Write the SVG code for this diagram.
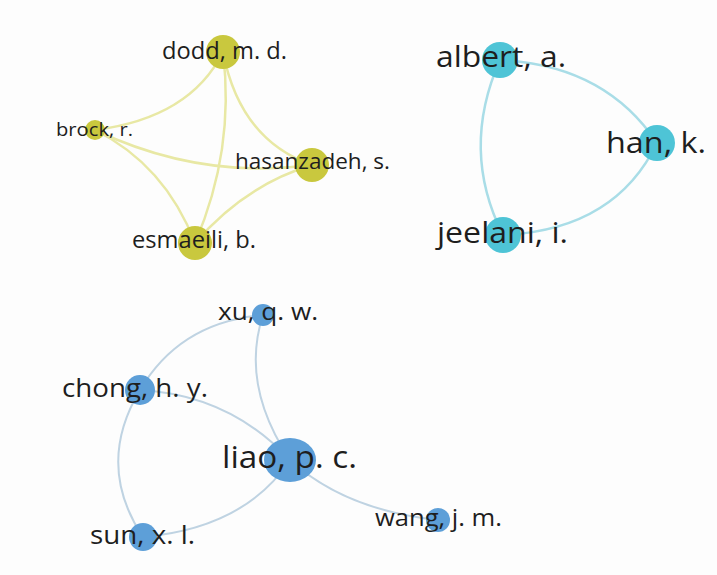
<svg xmlns="http://www.w3.org/2000/svg" width="717" height="575" viewBox="0 0 717 575">
<style>
text{font-family:"Open Sans","Noto Sans","DejaVu Sans",sans-serif;fill:#1e1e1e}
.ey{fill:none;stroke:#e8e8a4;stroke-width:2.5}
.ec{fill:none;stroke:#a9dde7;stroke-width:2.5}
.eb{fill:none;stroke:#bfd3e2;stroke-width:2}
.ny{fill:#c9c83e}
.nc{fill:#4ec4d6}
.nb{fill:#5d9fd8}
</style>
<rect width="717" height="575" fill="#fdfdfd"/>
<g id="connectors">
<path class="ey" d="M223,52 Q190,118 95,130"/>
<path class="ey" d="M223,52 Q240,140 312,165"/>
<path class="ey" d="M223,52 Q235,150 195,243"/>
<path class="ey" d="M95,130 Q200,180 312,165"/>
<path class="ey" d="M95,130 Q165,165 195,243"/>
<path class="ey" d="M195,243 Q245,185 312,165"/>
<path class="ec" d="M500,60 Q605,65 657,143"/>
<path class="ec" d="M657,143 Q615,230 503,235"/>
<path class="ec" d="M500,60 Q460,150 503,235"/>
<path class="eb" d="M263,315 Q180,322 140,390"/>
<path class="eb" d="M263,315 Q240,385 290,460"/>
<path class="eb" d="M140,390 Q230,395 290,460"/>
<path class="eb" d="M140,390 Q95,465 143,537"/>
<path class="eb" d="M143,537 Q245,528 290,460"/>
<path class="eb" d="M290,460 Q345,510 438,520"/>
</g>
<g id="dodd"><circle class="ny" cx="223" cy="52" r="17"/><text x="162" y="59" font-size="23" textLength="125" lengthAdjust="spacingAndGlyphs">dodd, m. d.</text></g>
<g id="brock"><circle class="ny" cx="95" cy="130" r="10"/><text x="56" y="136" font-size="19" textLength="77" lengthAdjust="spacingAndGlyphs">brock, r.</text></g>
<g id="hasanzadeh"><circle class="ny" cx="312" cy="165" r="17"/><text x="235" y="169" font-size="22" textLength="155" lengthAdjust="spacingAndGlyphs">hasanzadeh, s.</text></g>
<g id="esmaeili"><circle class="ny" cx="195" cy="243" r="17"/><text x="132" y="248" font-size="23" textLength="124" lengthAdjust="spacingAndGlyphs">esmaeili, b.</text></g>
<g id="albert"><circle class="nc" cx="500" cy="60" r="18"/><text x="436" y="67" font-size="30" textLength="130" lengthAdjust="spacingAndGlyphs">albert, a.</text></g>
<g id="han"><circle class="nc" cx="657" cy="143" r="18"/><text x="606" y="153" font-size="30" textLength="100" lengthAdjust="spacingAndGlyphs">han, k.</text></g>
<g id="jeelani"><circle class="nc" cx="503" cy="235" r="18"/><text x="437" y="243" font-size="30" textLength="131" lengthAdjust="spacingAndGlyphs">jeelani, i.</text></g>
<g id="xu"><circle class="nb" cx="263" cy="315" r="11"/><text x="218" y="320" font-size="24" textLength="100" lengthAdjust="spacingAndGlyphs">xu, q. w.</text></g>
<g id="chong"><circle class="nb" cx="140" cy="390" r="15"/><text x="62" y="397" font-size="26" textLength="146" lengthAdjust="spacingAndGlyphs">chong, h. y.</text></g>
<g id="liao"><ellipse class="nb" cx="290" cy="460" rx="26" ry="22"/><text x="222" y="468" font-size="31" textLength="135" lengthAdjust="spacingAndGlyphs">liao, p. c.</text></g>
<g id="sun"><circle class="nb" cx="143" cy="537" r="14"/><text x="90" y="544" font-size="26" textLength="105" lengthAdjust="spacingAndGlyphs">sun, x. l.</text></g>
<g id="wang"><circle class="nb" cx="438" cy="520" r="12"/><text x="375" y="526" font-size="24" textLength="127" lengthAdjust="spacingAndGlyphs">wang, j. m.</text></g>
</svg>
